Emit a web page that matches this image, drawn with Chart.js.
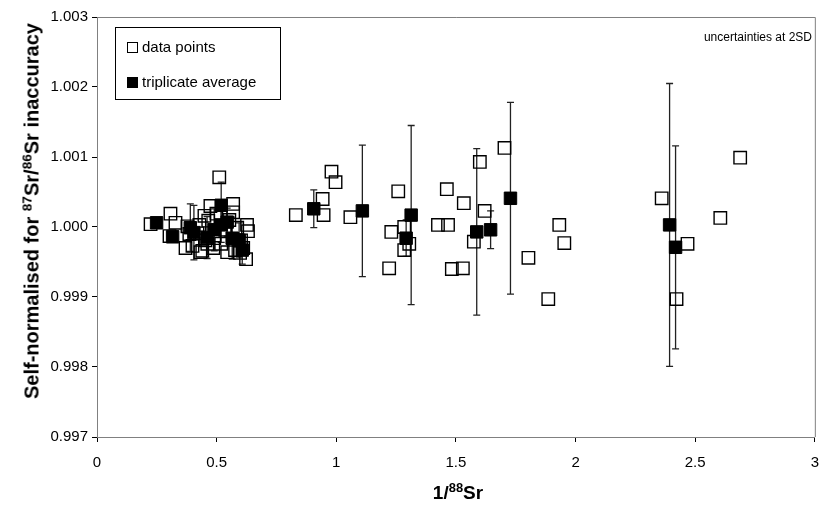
<!DOCTYPE html>
<html>
<head>
<meta charset="utf-8">
<script src="https://cdn.jsdelivr.net/npm/chart.js@4"></script>
<style>
  body { margin: 0; background: #fff; }
  #wrap { position: relative; width: 831px; height: 518px; font-family: "Liberation Sans", Arial, sans-serif; }
  #wrap canvas { position: absolute; left: 0; top: 0; }
  .lbl { position: absolute; white-space: nowrap; color: #000; }
  .lbl sup { font-size: 0.68em; line-height: 0; vertical-align: 0.55em; }
  #ytitle { left: 32px; top: 211px; font-weight: bold; font-size: 20px; transform: translate(-50%, -50%) rotate(-90deg); }
  #xtitle { left: 458px; top: 493px; font-weight: bold; font-size: 19px; transform: translate(-50%, -50%); }
  #note { right: 19px; top: 30px; font-size: 12px; }
</style>
</head>
<body>
<div id="wrap">
  <canvas id="scatterChart" width="831" height="518"></canvas>
  <div class="lbl" id="ytitle">Self-normalised for <sup>87</sup>Sr/<sup>86</sup>Sr inaccuracy</div>
  <div class="lbl" id="xtitle">1/<sup>88</sup>Sr</div>
  <div class="lbl" id="note">uncertainties at 2SD</div>
</div>
<script>
// individual measurements (hollow squares)
const pointX = [0.224, 0.328, 0.303, 0.307, 0.378, 0.370, 0.386, 0.399, 0.420, 0.432,
                0.428, 0.449, 0.465, 0.474, 0.453, 0.486, 0.490, 0.499, 0.511, 0.519,
                0.536, 0.553, 0.569, 0.569, 0.586, 0.602, 0.627, 0.631, 0.611, 0.598,
                0.623, 0.577, 0.544, 0.440, 0.461,
                0.831, 0.943, 0.947, 0.980, 0.997, 1.059, 1.221, 1.230, 1.259, 1.284,
                1.305, 1.284, 1.425, 1.462, 1.467, 1.483, 1.529, 1.533, 1.575, 1.600,
                1.620, 1.703, 1.803, 1.886, 1.932, 1.953, 2.360, 2.422, 2.468, 2.605, 2.688];
const pointY = [1.00004, 1.00006, 0.99987, 1.00019, 1.00001, 0.99970, 0.99990, 0.99973, 0.99991, 0.99964,
                1.00003, 1.00016, 1.00009, 1.00030, 0.99981, 0.99970, 0.99984, 1.00019, 1.00071, 0.99976,
                0.99996, 1.00010, 1.00033, 1.00021, 0.99999, 0.99981, 1.00003, 0.99994, 0.99970, 0.99963,
                0.99954, 0.99967, 0.99964, 0.99966, 0.99976,
                1.00017, 1.00040, 1.00017, 1.00079, 1.00064, 1.00014, 0.99941, 0.99993, 1.00051, 1.00000,
                0.99976, 0.99967, 1.00003, 1.00054, 1.00003, 0.99940, 0.99941, 1.00034, 0.99979, 1.00093,
                1.00023, 1.00113, 0.99956, 0.99897, 1.00003, 0.99977, 1.00041, 0.99897, 0.99976, 1.00013, 1.00099];

// triplicate averages (solid squares) with 2SD
const avgX = [0.249, 0.316, 0.390, 0.405, 0.460, 0.490, 0.519, 0.519, 0.544, 0.565, 0.594, 0.607,
              0.906, 1.109, 1.292, 1.313, 1.587, 1.645, 1.728, 2.393, 2.418];
const avgY = [1.00006, 0.99986, 0.99999, 0.99992, 0.99985, 0.99996, 1.00031, 1.00003, 1.00007, 0.99984, 0.99981, 0.99967,
              1.00026, 1.00023, 0.99984, 1.00017, 0.99993, 0.99996, 1.00041, 1.00003, 0.99971];
const avgErr = [0.00004, 0.00004, 0.00034, 0.00039, 0.00030, 0.00030, 0.00033, 0.00025, 0.00020, 0.00030, 0.00025, 0.00020,
                0.00027, 0.00094, 0.00026, 0.00128, 0.00119, 0.00027, 0.00137, 0.00202, 0.00145];

const xTicks = [0, 0.5, 1, 1.5, 2, 2.5, 3];
const yTicks = [0.997, 0.998, 0.999, 1.000, 1.001, 1.002, 1.003];

Chart.defaults.font.family = '"Liberation Sans", Arial, sans-serif';
Chart.defaults.color = '#000';

// vertical error bars for the averages
const errorBars = {
    id: 'errorBars',
    beforeDatasetsDraw(chart) {
        const { ctx, scales: { x, y } } = chart;
        ctx.save();
        ctx.strokeStyle = '#222';
        ctx.lineWidth = 1.3;
        avgX.forEach((v, i) => {
            const px = x.getPixelForValue(v);
            const top = y.getPixelForValue(avgY[i] + avgErr[i]);
            const bot = y.getPixelForValue(avgY[i] - avgErr[i]);
            ctx.beginPath();
            ctx.moveTo(px, top); ctx.lineTo(px, bot);
            ctx.moveTo(px - 3.5, top); ctx.lineTo(px + 3.5, top);
            ctx.moveTo(px - 3.5, bot); ctx.lineTo(px + 3.5, bot);
            ctx.stroke();
        });
        ctx.restore();
    }
};

// top and right frame of the plot area + boxed legend
const frameAndLegend = {
    id: 'frameAndLegend',
    afterDraw(chart) {
        const { ctx, chartArea: a } = chart;
        ctx.save();
        ctx.strokeStyle = '#808080';
        ctx.lineWidth = 1;
        ctx.beginPath();
        ctx.moveTo(a.left, a.top + 0.5); ctx.lineTo(a.right + 0.5, a.top + 0.5); ctx.lineTo(a.right + 0.5, a.bottom);
        ctx.stroke();

        // legend box
        const lx = a.left + 18, ly = a.top + 10, lw = 165, lh = 72;
        ctx.fillStyle = '#fff';
        ctx.fillRect(lx, ly, lw, lh);
        ctx.strokeStyle = '#000';
        ctx.strokeRect(lx + 0.5, ly + 0.5, lw, lh);

        ctx.font = '15px "Liberation Sans", Arial, sans-serif';
        ctx.textBaseline = 'middle';
        chart.data.datasets.forEach((ds, i) => {
            const cy = ly + 20 + i * 35;
            if (ds.backgroundColor === '#000') {
                ctx.fillStyle = '#000';
                ctx.fillRect(lx + 12, cy - 5, 11, 11);
            } else {
                ctx.strokeStyle = '#000';
                ctx.lineWidth = 1;
                ctx.strokeRect(lx + 12.5, cy - 4.5, 10, 10);
            }
            ctx.fillStyle = '#000';
            ctx.fillText(ds.label, lx + 27, cy + 1);
        });
        ctx.restore();
    }
};

const ctx = document.getElementById('scatterChart').getContext('2d');
new Chart(ctx, {
    type: 'scatter',
    data: {
        datasets: [
            {
                label: 'data points',
                data: pointX.map((v, i) => ({ x: v, y: pointY[i] })),
                pointStyle: 'rect',
                pointRadius: 8.8,
                borderColor: '#000',
                borderWidth: 1.4,
                backgroundColor: 'rgba(255,255,255,0)'
            },
            {
                label: 'triplicate average',
                data: avgX.map((v, i) => ({ x: v, y: avgY[i] })),
                pointStyle: 'rect',
                pointRadius: 8.8,
                borderColor: '#000',
                borderWidth: 1,
                backgroundColor: '#000'
            }
        ]
    },
    options: {
        responsive: false,
        animation: false,
        layout: { padding: { top: 17, right: 12, left: 0, bottom: 0 } },
        plugins: {
            legend: { display: false },
            tooltip: { enabled: false }
        },
        scales: {
            x: {
                type: 'linear',
                min: 0,
                max: 3,
                afterBuildTicks: scale => { scale.ticks = xTicks.map(v => ({ value: v })); },
                afterFit: scale => { scale.height = 81; },
                border: { display: true, color: '#808080', width: 1 },
                grid: { drawOnChartArea: false, drawTicks: true, tickLength: 5, color: '#000' },
                ticks: { font: { size: 15 }, padding: 12, maxRotation: 0, callback: v => String(v) }
            },
            y: {
                type: 'linear',
                min: 0.997,
                max: 1.003,
                afterBuildTicks: scale => { scale.ticks = yTicks.map(v => ({ value: v })); },
                afterFit: scale => { scale.width = 97; },
                border: { display: true, color: '#808080', width: 1 },
                grid: { drawOnChartArea: false, drawTicks: true, tickLength: 5, color: '#000' },
                ticks: { font: { size: 15 }, padding: 4, callback: v => v.toFixed(3) }
            }
        }
    },
    plugins: [errorBars, frameAndLegend]
});
</script>
</body>
</html>
